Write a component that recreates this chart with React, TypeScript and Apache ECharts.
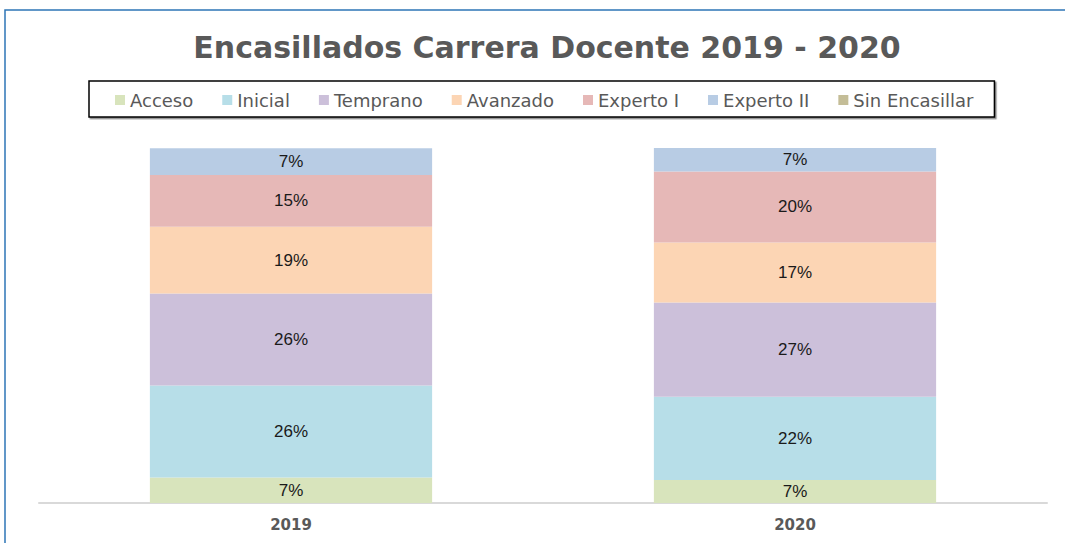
import React, { useEffect, useRef } from "react";
import * as echarts from "echarts";

const categories = ["2019", "2020"];
const seriesNames = ["Acceso", "Inicial", "Temprano", "Avanzado", "Experto I", "Experto II", "Sin Encasillar"];
const acceso = [7.2, 6.5];
const inicial = [25.9, 23.4];
const temprano = [25.9, 26.6];
const avanzado = [18.8, 16.9];
const expertoI = [14.6, 20.0];
const expertoII = [7.5, 6.7];
const sinEncasillar = [0, 0];
const accesoLabels = ["7%", "7%"];
const inicialLabels = ["26%", "22%"];
const tempranoLabels = ["26%", "27%"];
const avanzadoLabels = ["19%", "17%"];
const expertoILabels = ["15%", "20%"];
const expertoIILabels = ["7%", "7%"];
const sinEncasillarLabels = ["", ""];
const colors = ["#d8e4bc", "#b7dee8", "#ccc0da", "#fcd5b4", "#e6b8b7", "#b8cce4", "#c4bd97"];

export default function App() {
  const ref = useRef<HTMLDivElement>(null);
  useEffect(() => {
    if (!ref.current) return;
    const chart = echarts.init(ref.current, undefined, { renderer: "svg" });
    const values = [acceso, inicial, temprano, avanzado, expertoI, expertoII, sinEncasillar];
    const labels = [accesoLabels, inicialLabels, tempranoLabels, avanzadoLabels, expertoILabels, expertoIILabels, sinEncasillarLabels];
    chart.setOption({
      animation: false,
      backgroundColor: "#ffffff",
      color: colors,
      title: {
        text: "Encasillados Carrera Docente 2019 - 2020",
        left: 542,
        textAlign: "center",
        top: 27,
        textStyle: {
          fontFamily: "DejaVu Sans",
          fontWeight: "bold",
          fontSize: 30,
          color: "#595959",
        },
      },
      legend: {
        left: 89,
        top: 81,
        padding: [10, 21, 8, 26],
        itemGap: 29,
        itemWidth: 10,
        itemHeight: 10,
        icon: "rect",
        borderColor: "#000000",
        borderWidth: 1.5,
        backgroundColor: "#ffffff",
        shadowColor: "rgba(0,0,0,0.45)",
        shadowOffsetX: 1.5,
        shadowOffsetY: 1.5,
        shadowBlur: 1,
        textStyle: { fontFamily: "DejaVu Sans", fontSize: 18, color: "#595959" },
        data: seriesNames,
      },
      graphic: [
        {
          type: "rect",
          shape: { x: 5, y: 10, width: 1200, height: 700 },
          style: { fill: "none", stroke: "#2e75b6", lineWidth: 1.5 },
          silent: true,
        },
      ],
      grid: { left: 39, right: 18, top: 148, bottom: 40 },
      xAxis: {
        type: "category",
        data: categories,
        axisLine: { lineStyle: { color: "#d9d9d9", width: 2 } },
        axisTick: { show: false },
        axisLabel: {
          margin: 14,
          fontFamily: "DejaVu Sans",
          fontWeight: "bold",
          fontSize: 15,
          color: "#595959",
        },
      },
      yAxis: { type: "value", min: 0, max: 100, show: false, splitLine: { show: false } },
      series: seriesNames.map((name, i) => ({
        name,
        type: "bar",
        stack: "total",
        barWidth: "56%",
        data: values[i],
        label: {
          show: true,
          position: "inside",
          fontFamily: "Liberation Sans",
          fontSize: 17,
          color: "#1a1a1a",
          formatter: (p: any) => labels[i][p.dataIndex],
        },
      })),
    });
    return () => chart.dispose();
  }, []);
  return <div ref={ref} style={{ position: "fixed", left: 0, top: 0, width: 1065, height: 543 }} />;
}
